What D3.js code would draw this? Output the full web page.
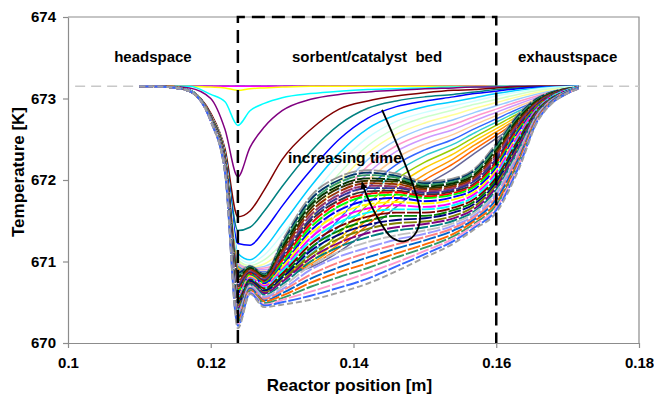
<!DOCTYPE html>
<html>
<head>
<meta charset="utf-8">
<script src="https://cdn.jsdelivr.net/npm/d3@7"></script>
<style>
  body { margin: 0; background: #fff; }
  svg text { font-family: "Liberation Sans", Arial, sans-serif; font-weight: bold; fill: #000; }
</style>
</head>
<body>
<div id="chart"></div>
<script>
// reactor positions (m) at which every temperature profile is read
const positions = [0.110, 0.114, 0.117, 0.120, 0.122, 0.1238, 0.1255, 0.1275, 0.130, 0.134, 0.138, 0.142, 0.146, 0.150, 0.154, 0.157, 0.160, 0.163, 0.166, 0.1715];

// early profiles (K), one row per time step
const earlyCurves = [
  [673.15,673.15,673.15,673.15,673.15,673.15,673.15,673.15,673.15,673.15,673.15,673.15,673.15,673.15,673.15,673.15,673.15,673.15,673.15,673.15],
  [673.15,673.15,673.15,673.15,673.15,673.15,673.15,673.15,673.15,673.15,673.15,673.15,673.15,673.15,673.15,673.15,673.15,673.15,673.15,673.15],
  [673.15,673.15,673.15,673.14,673.13,673.10,673.12,673.13,673.14,673.15,673.15,673.15,673.15,673.15,673.15,673.15,673.15,673.15,673.15,673.15],
  [673.15,673.15,673.15,673.05,672.96,672.67,672.85,672.94,673.01,673.06,673.09,673.11,673.12,673.13,673.14,673.14,673.15,673.15,673.15,673.15],
  [673.15,673.15,673.13,673.00,672.62,672.04,672.40,672.65,672.85,672.99,673.05,673.08,673.10,673.12,673.13,673.14,673.14,673.15,673.15,673.15],
  [673.15,673.15,673.10,672.82,672.38,671.55,671.62,671.88,672.25,672.62,672.87,672.97,673.03,673.07,673.10,673.11,673.13,673.14,673.15,673.15],
  [673.15,673.15,673.09,672.80,672.34,671.38,671.42,671.62,671.92,672.35,672.68,672.88,672.97,673.02,673.05,673.08,673.11,673.13,673.14,673.15],
  [673.15,673.15,673.09,672.80,672.33,671.22,671.20,671.38,671.68,672.12,672.50,672.76,672.90,672.97,673.02,673.06,673.09,673.12,673.14,673.15],
  [673.15,673.15,673.09,672.79,672.32,671.10,671.02,671.16,671.45,671.92,672.33,672.63,672.80,672.90,672.96,673.01,673.06,673.10,673.13,673.15],
  [673.15,673.15,673.09,672.79,672.31,671.06,670.98,671.08,671.33,671.78,672.20,672.52,672.72,672.83,672.91,672.97,673.03,673.08,673.12,673.15],
  [673.15,673.15,673.09,672.79,672.31,671.02,670.95,671.02,671.22,671.65,672.08,672.42,672.64,672.77,672.86,672.93,672.99,673.05,673.10,673.14],
  [673.15,673.15,673.09,672.79,672.30,671.00,670.93,670.97,671.13,671.54,671.97,672.33,672.56,672.70,672.80,672.88,672.95,673.02,673.08,673.14],
  [673.15,673.15,673.09,672.79,672.30,670.98,670.92,670.94,671.06,671.45,671.88,672.25,672.49,672.64,672.74,672.83,672.91,672.99,673.06,673.14],
  [673.15,673.15,673.09,672.79,672.30,670.97,670.91,670.92,671.01,671.37,671.79,672.17,672.42,672.57,672.68,672.78,672.87,672.96,673.04,673.14],
  [673.15,673.15,673.09,672.79,672.30,670.96,670.90,670.90,670.97,671.29,671.70,672.08,672.35,672.51,672.62,672.73,672.83,672.93,673.02,673.14],
  [673.15,673.15,673.09,672.79,672.30,670.95,670.89,670.88,670.94,671.22,671.61,671.99,672.27,672.44,672.56,672.68,672.79,672.90,673.00,673.13],
  [673.15,673.15,673.09,672.79,672.29,670.94,670.88,670.87,670.92,671.15,671.52,671.90,672.19,672.37,672.50,672.63,672.75,672.87,672.98,673.13],
  [673.15,673.15,673.09,672.79,672.29,670.93,670.87,670.86,670.90,671.09,671.43,671.80,672.10,672.30,672.44,672.58,672.71,672.84,672.96,673.13],
  [673.15,673.15,673.09,672.79,672.29,670.92,670.86,670.85,670.88,671.04,671.35,671.70,672.01,672.22,672.38,672.53,672.67,672.81,672.94,673.13],
  [673.15,673.15,673.09,672.79,672.29,670.91,670.86,670.84,670.87,671.00,671.28,671.61,671.92,672.15,672.32,672.48,672.63,672.78,672.92,673.13],
  [673.15,673.15,673.09,672.79,672.29,670.90,670.85,670.83,670.86,670.97,671.22,671.52,671.83,672.07,672.26,672.43,672.59,672.75,672.90,673.13],
  [673.15,673.15,673.09,672.79,672.28,670.90,670.85,670.82,670.85,670.95,671.17,671.45,671.75,672.00,672.20,672.38,672.55,672.72,672.88,673.13],
  [673.15,673.15,673.09,672.79,672.28,670.89,670.84,670.81,670.84,670.93,671.12,671.38,671.67,671.93,672.14,672.33,672.51,672.69,672.86,673.13]
];

// later profiles (K), the dense band with the hump in the bed
const lateCurves = [
  [673.15,673.14,673.10,672.78,672.28,670.88,670.95,670.85,671.25,671.80,672.04,672.12,672.08,671.98,672.02,672.14,672.45,672.80,673.02,673.14],
  [673.15,673.14,673.10,672.78,672.27,670.86,670.94,670.84,671.22,671.76,672.00,672.09,672.05,671.96,672.00,672.12,672.42,672.78,673.01,673.14],
  [673.15,673.14,673.10,672.78,672.27,670.83,670.93,670.83,671.20,671.72,671.97,672.06,672.03,671.94,671.98,672.10,672.40,672.76,673.00,673.14],
  [673.15,673.14,673.10,672.77,672.26,670.81,670.92,670.82,671.17,671.69,671.93,672.02,672.00,671.92,671.96,672.07,672.37,672.74,672.99,673.14],
  [673.15,673.14,673.10,672.77,672.25,670.78,670.91,670.81,671.14,671.65,671.90,671.99,671.98,671.90,671.94,672.05,672.34,672.72,672.98,673.14],
  [673.15,673.14,673.10,672.77,672.25,670.76,670.90,670.80,671.12,671.61,671.86,671.96,671.95,671.88,671.92,672.03,672.32,672.70,672.97,673.14],
  [673.15,673.14,673.10,672.77,672.24,670.74,670.88,670.78,671.09,671.57,671.82,671.93,671.92,671.86,671.90,672.01,672.29,672.68,672.96,673.14],
  [673.15,673.14,673.10,672.77,672.23,670.71,670.87,670.77,671.06,671.53,671.79,671.90,671.90,671.84,671.88,671.99,672.26,672.66,672.95,673.14],
  [673.15,673.14,673.10,672.76,672.22,670.69,670.86,670.76,671.03,671.50,671.75,671.86,671.87,671.82,671.86,671.96,672.23,672.64,672.94,673.14],
  [673.15,673.14,673.10,672.76,672.22,670.66,670.85,670.75,671.01,671.46,671.72,671.83,671.85,671.80,671.84,671.94,672.21,672.62,672.93,673.14],
  [673.15,673.14,673.10,672.76,672.21,670.64,670.84,670.74,670.98,671.42,671.68,671.80,671.82,671.78,671.82,671.92,672.18,672.60,672.92,673.14],
  [673.15,673.14,673.10,672.76,672.20,670.62,670.83,670.73,670.95,671.38,671.63,671.75,671.78,671.74,671.79,671.89,672.15,672.58,672.91,673.14],
  [673.15,673.14,673.10,672.76,672.20,670.59,670.82,670.71,670.93,671.34,671.58,671.70,671.73,671.71,671.76,671.86,672.12,672.55,672.90,673.14],
  [673.15,673.14,673.10,672.75,672.19,670.57,670.80,670.70,670.90,671.29,671.53,671.65,671.69,671.67,671.72,671.83,672.09,672.53,672.90,673.14],
  [673.15,673.14,673.10,672.75,672.19,670.55,670.79,670.68,670.88,671.25,671.48,671.60,671.64,671.64,671.69,671.80,672.06,672.50,672.89,673.14],
  [673.15,673.14,673.09,672.75,672.18,670.53,670.78,670.67,670.85,671.21,671.43,671.55,671.60,671.60,671.66,671.77,672.03,672.48,672.88,673.13],
  [673.15,673.14,673.09,672.75,672.17,670.50,670.77,670.65,670.82,671.17,671.38,671.50,671.56,671.56,671.63,671.74,672.00,672.45,672.87,673.13],
  [673.15,673.14,673.09,672.75,672.17,670.48,670.76,670.64,670.80,671.13,671.33,671.45,671.51,671.53,671.60,671.71,671.97,672.43,672.86,673.13],
  [673.15,673.14,673.09,672.74,672.16,670.46,670.74,670.62,670.77,671.08,671.28,671.40,671.47,671.49,671.56,671.68,671.94,672.40,672.86,673.13],
  [673.15,673.14,673.09,672.74,672.16,670.43,670.73,670.61,670.75,671.04,671.23,671.35,671.42,671.46,671.53,671.65,671.91,672.38,672.85,673.13],
  [673.15,673.14,673.09,672.74,672.15,670.41,670.72,670.59,670.72,671.00,671.18,671.30,671.38,671.42,671.50,671.62,671.88,672.35,672.84,673.13],
  [673.15,673.14,673.09,672.74,672.14,670.38,670.71,670.57,670.69,670.95,671.12,671.24,671.32,671.38,671.47,671.60,671.85,672.32,672.83,673.13],
  [673.15,673.14,673.09,672.74,672.13,670.36,670.69,670.56,670.66,670.90,671.06,671.17,671.27,671.34,671.44,671.57,671.82,672.29,672.82,673.13],
  [673.15,673.14,673.09,672.73,672.13,670.33,670.68,670.54,670.64,670.84,670.99,671.11,671.21,671.30,671.41,671.55,671.79,672.27,672.81,673.13],
  [673.15,673.14,673.09,672.73,672.12,670.31,670.67,670.52,670.61,670.79,670.93,671.05,671.16,671.26,671.38,671.52,671.76,672.24,672.80,673.13],
  [673.15,673.14,673.09,672.73,672.11,670.28,670.65,670.51,670.58,670.74,670.87,670.98,671.10,671.21,671.34,671.50,671.72,672.21,672.79,673.12],
  [673.15,673.14,673.09,672.73,672.10,670.26,670.64,670.49,670.55,670.69,670.81,670.92,671.05,671.17,671.31,671.47,671.69,672.18,672.78,673.12],
  [673.15,673.14,673.09,672.72,672.10,670.23,670.63,670.47,670.53,670.63,670.74,670.86,670.99,671.13,671.28,671.45,671.66,672.16,672.77,673.12],
  [673.15,673.14,673.09,672.72,672.09,670.21,670.61,670.46,670.50,670.58,670.68,670.79,670.94,671.09,671.25,671.42,671.63,672.13,672.76,673.12],
  [673.15,673.14,673.09,672.72,672.08,670.18,670.60,670.44,670.47,670.53,670.62,670.73,670.88,671.05,671.22,671.40,671.60,672.10,672.75,673.12]
];

const earlyColors = ["#000080","#FF00FF","#FFFF00","#00FFFF","#800080","#800000","#008080","#0000FF","#00CCFF","#CCFFFF","#CCFFCC","#FFFF99","#99CCFF","#FF99CC","#CC99FF","#FFCC99","#3366FF","#33CCCC","#99CC00","#FFCC00","#FF9900","#FF6600","#666699"];
const lateColors = ["#969696","#003366","#339966","#003300","#333300","#993300","#993366","#333399","#333333","#FF0000","#00FF00","#0000FF","#FFFF00","#FF00FF","#00FFFF","#800000","#008000","#000080","#808000","#800080","#008080","#C0C0C0","#9999FF","#FF8080","#0066CC","#FF6600","#339966","#FF99CC","#3366FF","#a0a0a0"];

const xTicks = [0.1, 0.12, 0.14, 0.16, 0.18];
const yTicks = [670, 671, 672, 673, 674];
const initialT = 673.15;
const bedBounds = [0.1238, 0.16];
const regions = [
  {name: "headspace", from: 0.1, to: 0.1238},
  {name: "sorbent/catalyst\u00a0 bed", from: 0.1238, to: 0.16},
  {name: "exhaustspace", from: 0.16, to: 0.18}
];
// hand-drawn "increasing time" arrow, in data units
const arrowX = [0.1440, 0.1493, 0.1488, 0.1472, 0.1454, 0.1433, 0.1418, 0.1412];
const arrowT = [672.86, 671.63, 671.36, 671.25, 671.29, 671.55, 671.82, 671.97];

// set the dimensions and margins of the graph
var margin = {top: 17, right: 15, bottom: 53, left: 68},
  width = 654 - margin.left - margin.right,
  height = 396 - margin.top - margin.bottom;

var x = d3.scaleLinear().domain([0.1, 0.18]).range([0, width]);
var y = d3.scaleLinear().domain([670, 674]).range([height, 0]);

var svg = d3.select("#chart").append("svg")
    .attr("width", width + margin.left + margin.right)
    .attr("height", height + margin.top + margin.bottom)
  .append("g")
    .attr("transform", "translate(" + margin.left + "," + margin.top + ")");

svg.append("defs").append("marker")
    .attr("id", "head")
    .attr("viewBox", "0 0 10 10")
    .attr("refX", 9).attr("refY", 5)
    .attr("markerWidth", 4).attr("markerHeight", 4)
    .attr("markerUnits", "strokeWidth")
    .attr("orient", "auto")
  .append("path")
    .attr("d", "M0,0L10,5L0,10z")
    .attr("fill", "#000");

// plot frame (top and right)
svg.append("path")
    .attr("d", "M0,0H" + width + "V" + height)
    .attr("fill", "none")
    .attr("stroke", "#8c8c8c")
    .attr("stroke-width", 1.2);

// axes
var xAxis = svg.append("g")
    .attr("transform", "translate(0," + height + ")")
    .call(d3.axisBottom(x).tickValues(xTicks).tickSize(5).tickSizeOuter(0).tickPadding(9)
      .tickFormat(d3.format("~g")));
var yAxis = svg.append("g")
    .call(d3.axisLeft(y).tickValues(yTicks).tickSize(5).tickSizeOuter(0).tickPadding(7)
      .tickFormat(d3.format("d")));
[xAxis, yAxis].forEach(function(g) {
  g.selectAll("path, line").attr("stroke", "#8c8c8c").attr("stroke-width", 1.2);
  g.selectAll("text").style("font-size", "15px").attr("fill", "#000");
});

// initial temperature reference
svg.append("line")
    .attr("x1", x(0.101)).attr("x2", x(0.18))
    .attr("y1", y(initialT)).attr("y2", y(initialT))
    .attr("stroke", "#c8c8c8")
    .attr("stroke-width", 1.5)
    .attr("stroke-dasharray", "10,6");

var line = d3.line()
    .x(function(d, i) { return x(positions[i]); })
    .y(function(d) { return y(d); })
    .curve(d3.curveMonotoneX);

svg.selectAll(".early")
    .data(earlyCurves)
  .enter().append("path")
    .attr("class", "early")
    .attr("d", line)
    .attr("fill", "none")
    .attr("stroke", function(d, i) { return earlyColors[i % earlyColors.length]; })
    .attr("stroke-width", 1.5);

svg.selectAll(".late")
    .data(lateCurves)
  .enter().append("path")
    .attr("class", "late")
    .attr("d", line)
    .attr("fill", "none")
    .attr("stroke", function(d, i) { return lateColors[i % lateColors.length]; })
    .attr("stroke-width", 1.9)
    .attr("stroke-dasharray", function(d, i) { return i == lateCurves.length - 1 ? "6,3" : "13,2"; });

// bed boundaries
svg.append("path")
    .attr("d", "M" + x(bedBounds[0]) + "," + y(670) + "V" + y(674) + "H" + x(bedBounds[1]) + "V" + y(670))
    .attr("fill", "none")
    .attr("stroke", "#000")
    .attr("stroke-width", 2.5)
    .attr("stroke-dasharray", "13,7");

// region labels
svg.selectAll(".region")
    .data(regions)
  .enter().append("text")
    .attr("class", "region")
    .attr("text-anchor", "middle")
    .attr("x", function(d) { return x((d.from + d.to) / 2); })
    .attr("y", y(673.45))
    .style("font-size", "15px")
    .text(function(d) { return d.name; });

// increasing time annotation
svg.append("path")
    .datum(arrowX)
    .attr("d", d3.line()
      .x(function(d) { return x(d); })
      .y(function(d, i) { return y(arrowT[i]); })
      .curve(d3.curveCatmullRom))
    .attr("fill", "none")
    .attr("stroke", "#000")
    .attr("stroke-width", 1.8)
    .attr("marker-end", "url(#head)");

svg.append("text")
    .attr("text-anchor", "middle")
    .attr("x", x(0.1388))
    .attr("y", y(672.21))
    .style("font-size", "15.5px")
    .text("increasing time");

// Y axis label
svg.append("text")
    .attr("text-anchor", "middle")
    .attr("transform", "rotate(-90)")
    .attr("x", -height / 2 + 8)
    .attr("y", -margin.left + 24)
    .style("font-size", "17px")
    .text("Temperature [K]");

// X axis label
svg.append("text")
    .attr("text-anchor", "middle")
    .attr("x", width / 2 - 4)
    .attr("y", height + 48)
    .style("font-size", "17px")
    .text("Reactor position [m]");
</script>
</body>
</html>
